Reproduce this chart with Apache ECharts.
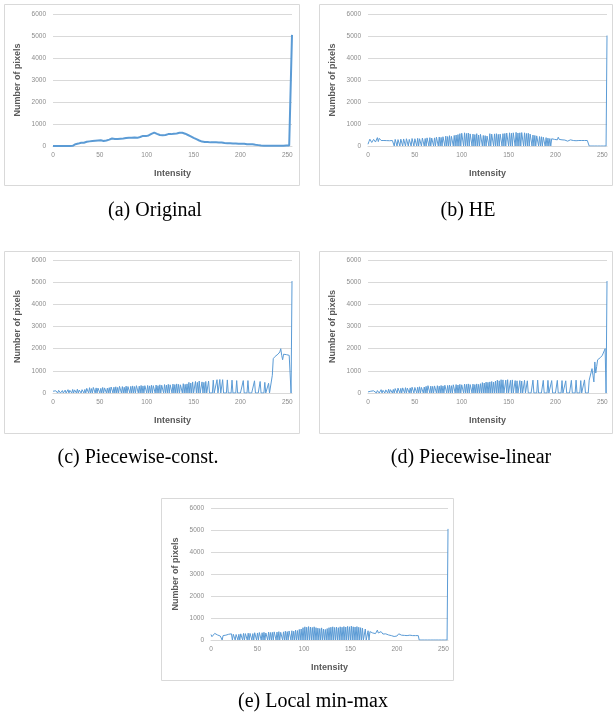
<!DOCTYPE html>
<html>
<head>
<meta charset="utf-8">
<script src="https://cdn.jsdelivr.net/npm/echarts@6/dist/echarts.min.js"></script>
<style>
  html, body { margin: 0; padding: 0; background: #fff; }
  #chart { width: 615px; height: 718px; }
</style>
</head>
<body>
<div id="chart"></div>
<script>
// histogram counts per intensity 0..255
var originalCounts = [
  0,0,0,0,0,0,0,0,0,0,0,0,0,0,0,0,
  0,0,0,0,5,10,30,60,80,100,120,110,140,160,150,170,
  160,150,180,200,190,170,200,210,190,200,230,210,220,240,270,260,
  250,240,250,260,250,240,230,260,270,250,280,300,290,310,320,340,
  330,310,320,340,330,320,350,340,330,350,360,340,330,350,360,340,
  370,380,360,390,370,380,400,390,410,380,370,390,420,410,400,450,
  460,440,420,450,470,440,480,500,510,550,590,600,610,580,560,550,
  540,520,500,470,460,490,450,470,500,530,550,540,560,550,540,560,
  570,560,550,580,570,560,590,600,620,610,600,580,590,560,540,520,
  500,480,460,440,420,400,370,350,330,310,290,270,250,230,210,200,
  190,185,180,175,180,185,175,170,165,170,175,165,170,160,165,160,
  165,160,155,150,160,155,150,140,145,140,130,135,120,125,130,120,
  115,120,110,115,105,110,100,105,95,100,90,95,100,85,90,80,
  85,80,75,80,70,75,65,60,55,50,45,40,35,30,25,20,
  15,15,10,12,10,8,10,12,10,8,10,12,15,12,10,12,
  15,12,10,15,12,18,15,20,18,22,20,25,22,30,60,5050
];
var heCounts = [
  80,200,310,290,160,220,300,250,180,240,380,200,350,260,250,270,
  260,250,255,250,245,260,250,240,250,245,250,230,0,300,310,0,
  290,320,0,310,280,0,320,300,0,330,310,0,300,320,0,340,
  310,0,330,320,0,350,0,330,340,0,360,320,0,340,0,370,
  350,0,380,0,360,390,0,370,0,400,380,0,410,0,390,0,
  420,400,0,450,0,430,0,470,0,440,460,0,480,0,500,0,
  520,0,560,0,580,540,0,600,0,570,0,590,0,550,560,0,
  540,0,520,0,560,0,500,0,530,510,0,480,0,470,0,450,
  500,0,560,0,540,520,0,550,0,560,0,530,0,540,550,0,
  560,0,570,0,590,560,0,600,0,580,0,600,590,0,620,0,
  590,0,600,0,610,580,0,600,0,570,0,580,0,540,520,0,
  500,0,480,0,460,450,0,430,0,420,0,400,390,0,380,0,
  360,0,340,0,330,350,310,300,380,320,280,400,300,260,350,280,
  240,330,270,310,260,220,300,240,280,230,270,250,300,260,240,250,
  270,250,260,240,250,255,245,250,240,245,250,260,0,0,0,0,
  0,0,0,0,0,0,0,0,0,0,0,0,0,0,0,5020
];
var pwConstCounts = [
  80,40,0,100,60,0,120,80,0,50,110,0,90,130,0,60,
  150,0,120,100,0,160,0,140,110,0,170,0,130,180,0,150,
  200,0,160,0,210,180,0,240,0,200,0,250,190,0,230,0,
  220,240,0,210,0,250,0,230,260,0,220,0,240,0,270,250,
  0,260,0,280,0,250,0,300,270,0,290,0,260,0,310,0,
  290,280,0,300,0,320,0,290,0,330,300,0,310,0,340,0,
  320,0,330,310,0,340,0,320,0,350,0,330,340,0,360,0,
  330,0,370,0,350,340,0,380,0,360,0,390,0,370,350,0,
  400,0,380,0,410,0,390,0,370,400,0,420,0,390,0,410,
  0,480,0,450,0,500,0,0,520,0,480,0,540,0,0,500,
  0,480,0,520,0,0,540,0,0,0,0,580,0,0,0,600,
  0,0,610,0,0,600,0,0,0,0,590,0,0,0,0,580,
  0,0,0,0,560,0,0,0,0,0,0,560,0,0,0,0,
  560,0,0,0,0,0,0,550,0,0,0,0,0,520,0,0,
  0,0,480,0,0,0,440,0,0,0,800,1550,1620,1650,1680,1660,
  1750,1800,1850,2000,1700,1500,1750,1720,1700,1730,1710,1720,1700,1700,0,5050
];
var pwLinearCounts = [
  50,120,0,80,150,0,100,60,130,0,110,140,0,90,150,0,
  120,160,0,140,100,0,170,0,150,180,0,160,0,200,170,0,
  220,190,0,210,0,230,200,0,240,0,220,250,0,230,0,260,
  240,0,250,270,0,260,0,280,0,250,290,0,270,0,300,0,
  330,280,0,310,0,300,0,320,290,0,330,0,310,0,340,0,
  320,0,350,330,0,340,0,360,0,330,0,370,350,0,380,0,
  360,0,390,0,370,380,0,400,0,390,0,410,0,380,420,0,
  400,0,380,0,410,0,390,0,420,0,470,0,450,0,490,0,
  480,0,500,0,520,0,490,0,540,0,580,0,550,0,600,0,
  590,0,0,580,0,600,0,0,570,0,590,0,0,560,0,550,
  0,0,560,0,540,0,0,570,0,0,550,0,0,0,0,0,
  580,0,0,0,0,580,0,0,0,0,0,570,0,0,0,0,
  570,0,0,0,560,0,0,0,0,0,570,0,0,0,0,560,
  0,0,0,550,0,0,0,0,0,570,0,0,0,0,580,0,
  0,0,0,560,0,0,0,590,0,0,0,0,580,600,620,1100,
  800,500,1400,900,1200,1500,1450,1550,1600,1650,1700,1800,1900,2000,0,5050
];
var localMinMaxCounts = [
  250,150,180,200,300,220,280,230,200,210,180,190,0,200,170,150,
  220,180,280,260,270,250,280,0,260,270,0,250,280,0,260,0,
  280,270,0,300,0,290,280,0,310,0,300,320,0,290,0,330,
  310,0,320,0,340,300,0,330,0,350,0,320,340,0,360,0,
  340,0,350,0,370,340,0,360,0,380,0,350,390,0,370,0,
  400,0,380,0,410,390,0,420,0,400,0,450,0,430,0,480,
  0,500,0,560,0,600,0,580,0,610,0,590,0,570,0,600,
  0,560,0,540,0,520,0,550,0,500,0,480,0,520,0,560,
  0,580,0,600,0,570,0,590,0,560,0,600,0,580,0,610,
  0,590,0,620,0,600,0,630,0,600,0,590,0,610,0,580,
  0,560,0,540,0,0,500,0,0,420,0,380,350,330,320,310,
  300,290,310,450,320,300,280,380,290,270,350,260,280,250,240,230,
  250,220,200,180,170,160,150,160,180,200,280,210,200,220,250,220,
  210,230,220,200,210,230,220,210,250,200,220,210,200,190,210,200,
  0,0,0,0,0,0,0,0,0,0,0,0,0,0,0,0,
  0,0,0,0,0,0,0,0,0,0,0,0,0,0,0,5050
];

var captions = ['(a) Original', '(b) HE', '(c) Piecewise-const.', '(d) Piecewise-linear', '(e) Local min-max'];
var xName = 'Intensity';
var yName = 'Number of pixels';

var allCounts = [originalCounts, heCounts, pwConstCounts, pwLinearCounts, localMinMaxCounts];

// layout of each sub-figure: plot grid, outer box, caption centre
var layout = [
  { grid: { left: 53, top: 14, width: 239, height: 132 }, box: [4, 4, 295, 181], cap: [155, 211], lw: 2 },
  { grid: { left: 368, top: 14, width: 239, height: 132 }, box: [319, 4, 293, 181], cap: [468, 211], lw: 1 },
  { grid: { left: 53, top: 260, width: 239, height: 133 }, box: [4, 251, 295, 182], cap: [138, 458], lw: 1 },
  { grid: { left: 368, top: 260, width: 239, height: 133 }, box: [319, 251, 293, 182], cap: [471, 458], lw: 1 },
  { grid: { left: 211, top: 508, width: 237, height: 132 }, box: [161, 498, 292, 182], cap: [313, 702], lw: 1 }
];

var tickFont = { fontFamily: 'Liberation Sans', fontSize: 6.5, color: '#8c8c8c' };
var nameFont = { fontFamily: 'Liberation Sans', fontSize: 9, fontWeight: 'bold', color: '#595959' };
var grey = '#d9d9d9';
var blue = '#5b9bd5';

var grids = [], xAxes = [], yAxes = [], series = [], graphics = [];

layout.forEach(function (p, k) {
  grids.push(p.grid);
  xAxes.push({
    type: 'value', gridIndex: k, min: 0, max: 255, interval: 50,
    name: xName, nameLocation: 'middle', nameGap: 23, nameTextStyle: nameFont,
    axisLine: { show: true, lineStyle: { color: grey } },
    axisTick: { show: false },
    splitLine: { show: false },
    axisLabel: Object.assign({ margin: 6, showMaxLabel: false, formatter: function (v) { return v % 50 === 0 ? String(v) : ''; } }, tickFont)
  });
  yAxes.push({
    type: 'value', gridIndex: k, min: 0, max: 6000, interval: 1000,
    name: yName, nameLocation: 'middle', nameGap: 31, nameRotate: 90, nameTextStyle: nameFont,
    axisLine: { show: false }, axisTick: { show: false },
    splitLine: { lineStyle: { color: grey, width: 1 } },
    axisLabel: Object.assign({ margin: 7, formatter: function (v) { return String(v); } }, tickFont)
  });
  series.push({
    type: 'line', xAxisIndex: k, yAxisIndex: k,
    data: allCounts[k].map(function (v, i) { return [i, v]; }),
    showSymbol: false, symbol: 'none',
    lineStyle: { color: blue, width: p.lw },
    z: 5
  });
  graphics.push({
    type: 'rect', shape: { x: p.box[0] + 0.5, y: p.box[1] + 0.5, width: p.box[2], height: p.box[3] },
    style: { fill: null, stroke: grey, lineWidth: 1 }, silent: true
  });
  graphics.push({
    type: 'text', x: p.cap[0], y: p.cap[1],
    style: { text: captions[k], font: '20px "Liberation Serif"', fill: '#000', textAlign: 'center', textVerticalAlign: 'middle' }
  });
});

var chart = echarts.init(document.getElementById('chart'));
chart.setOption({
  animation: false,
  grid: grids,
  xAxis: xAxes,
  yAxis: yAxes,
  series: series,
  graphic: graphics
});
</script>
</body>
</html>
